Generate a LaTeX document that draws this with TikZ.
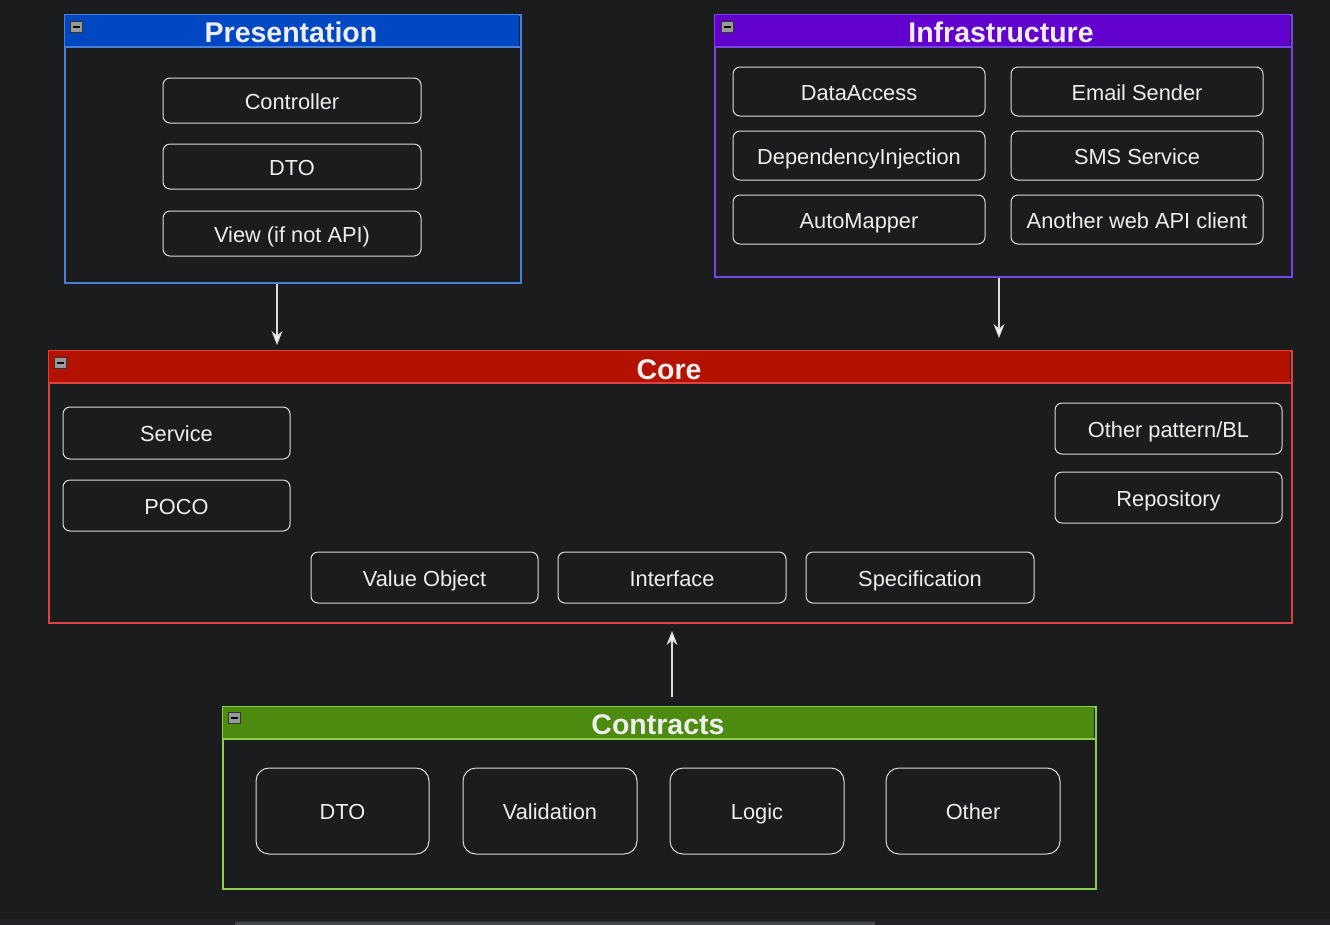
\documentclass[tikz,border=0pt]{standalone}
\usepackage{fontspec}
\setmainfont{Liberation Sans}
\usetikzlibrary{arrows.meta}
\definecolor{bg}{HTML}{1B1C1E}
\definecolor{strip}{HTML}{202124}
\definecolor{thumb}{HTML}{45484B}
\definecolor{fg}{HTML}{EEEEEE}
\definecolor{boxline}{HTML}{DDDDDD}
\definecolor{presH}{HTML}{0047C4}
\definecolor{presB}{HTML}{4A7FD6}
\definecolor{infH}{HTML}{6200CE}
\definecolor{infB}{HTML}{7A45E6}
\definecolor{coreH}{HTML}{B41200}
\definecolor{coreB}{HTML}{E04040}
\definecolor{conH}{HTML}{4C8A10}
\definecolor{conB}{HTML}{8CD050}
\tikzset{
  box/.style={draw=boxline, line width=1pt, rounded corners=7pt, text=fg, font=\fontsize{21.8}{24}\selectfont, inner sep=0pt, text height=19pt, text depth=2pt},
  bigbox/.style={box, rounded corners=13pt},
  cont/.style={draw=#1, line width=1.5pt, fill=bg, inner sep=0pt},
  title/.style={text=fg, font=\bfseries\fontsize{28.5}{30}\selectfont, inner sep=0pt, text height=24pt, text depth=2.4pt},
  arr/.style={draw=boxline, line width=1.3pt, -{Stealth[length=14pt,width=11pt,fill=white]}},
}
\newcommand{\minusicon}[2]{%
  \fill[gray!80, draw=gray!40!black, line width=0.6pt] (#1,#2) rectangle ++(12,11);
  \fill[black] (#1+2.5,#2+5) rectangle ++(7,1.6);
}
\begin{document}
\begin{tikzpicture}[x=1pt,y=-1pt]
\useasboundingbox (0,0) rectangle (1330,924);
\fill[bg] (-6,-6) rectangle (1336,930);
\fill[strip] (-6,919) rectangle (1336,930);
\fill[thumb, rounded corners=1pt] (235,921.5) rectangle (875,928);

% Presentation
\node[cont=presB, minimum width=456pt, minimum height=268pt, anchor=north west] (pres) at (64,14) {};
\fill[presH] (64.75,14.75) rectangle (519.25,47);
\draw[presB, line width=1.5pt] (64,47) -- (520,47);
\node[title] (presT) at (291,31.5) {Presentation};
\minusicon{70}{21}
\node[box, minimum width=258pt, minimum height=45pt] (ctrl) at (292,100.5) {Controller};
\node[box, minimum width=258pt, minimum height=45pt] (pdto) at (292,166.5) {DTO};
\node[box, minimum width=258pt, minimum height=45pt] (view) at (292,233.5) {View (if not API)};

% Infrastructure
\node[cont=infB, minimum width=577pt, minimum height=262pt, anchor=north west] (inf) at (714,14) {};
\fill[infH] (714.75,14.75) rectangle (1290.25,47);
\draw[infB, line width=1.5pt] (714,47) -- (1291,47);
\node[title] (infT) at (1001,31.5) {Infrastructure};
\minusicon{721}{21}
\node[box, minimum width=252pt, minimum height=49pt] (da) at (859,91.5) {DataAccess};
\node[box, minimum width=252pt, minimum height=49pt] (di) at (859,155.5) {DependencyInjection};
\node[box, minimum width=252pt, minimum height=49pt] (am) at (859,219.5) {AutoMapper};
\node[box, minimum width=252pt, minimum height=49pt] (es) at (1137,91.5) {Email Sender};
\node[box, minimum width=252pt, minimum height=49pt] (sms) at (1137,155.5) {SMS Service};
\node[box, minimum width=252pt, minimum height=49pt] (api) at (1137,219.5) {Another web API client};

% Core
\node[cont=coreB, minimum width=1243pt, minimum height=272pt, anchor=north west] (core) at (48,350) {};
\fill[coreH] (48.75,350.75) rectangle (1290.25,383);
\draw[coreB, line width=1.5pt] (48,383) -- (1291,383);
\node[title] (coreT) at (669,368.5) {Core};
\minusicon{54}{357}
\node[box, minimum width=227pt, minimum height=52pt] (svc) at (176.5,433) {Service};
\node[box, minimum width=227pt, minimum height=51pt] (poco) at (176.5,505.5) {POCO};
\node[box, minimum width=227pt, minimum height=51pt] (other) at (1168.5,428.5) {Other pattern/BL};
\node[box, minimum width=227pt, minimum height=51pt] (repo) at (1168.5,497.5) {Repository};
\node[box, minimum width=227pt, minimum height=51pt] (vo) at (424.5,577.5) {Value Object};
\node[box, minimum width=228pt, minimum height=51pt] (intf) at (672,577.5) {Interface};
\node[box, minimum width=228pt, minimum height=51pt] (spec) at (920,577.5) {Specification};

% Contracts
\node[cont=conB, minimum width=873pt, minimum height=182pt, anchor=north west] (con) at (222,706) {};
\fill[conH] (222.75,706.75) rectangle (1094.25,739);
\draw[conB, line width=1.5pt] (222,739) -- (1095,739);
\node[title] (conT) at (658,723.5) {Contracts};
\minusicon{228}{712}
\node[bigbox, minimum width=173pt, minimum height=86pt] (cdto) at (342.5,811) {DTO};
\node[bigbox, minimum width=174pt, minimum height=86pt] (val) at (550,811) {Validation};
\node[bigbox, minimum width=174pt, minimum height=86pt] (logic) at (757,811) {Logic};
\node[bigbox, minimum width=174pt, minimum height=86pt] (cother) at (973,811) {Other};

% Arrows
\coordinate (e1) at (277,345);
\coordinate (e2) at (999,338);
\coordinate (s3) at (672,697);
\coordinate (e3) at (672,631);
\draw[arr] (pres.south -| e1) -- (e1);
\draw[arr] (inf.south -| e2) -- (e2);
\draw[arr] (s3) -- (e3);
\end{tikzpicture}
\end{document}
